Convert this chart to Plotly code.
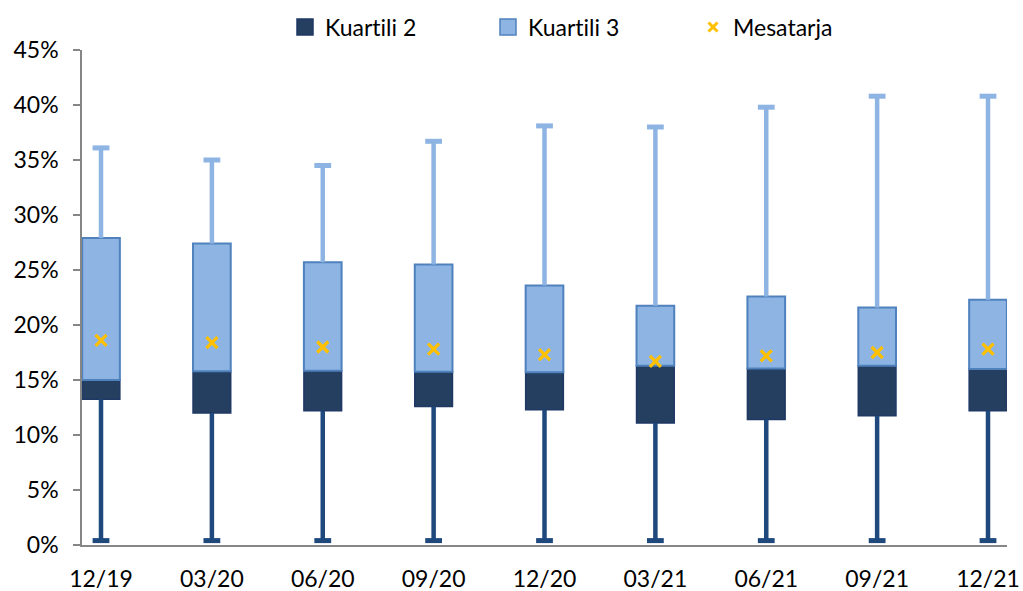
import plotly.graph_objects as go

categories = ["12/19", "03/20", "06/20", "09/20", "12/20", "03/21", "06/21", "09/21", "12/21"]
q_min = [0.4, 0.4, 0.4, 0.4, 0.4, 0.4, 0.4, 0.4, 0.4]
q1 = [13.25, 12.0, 12.2, 12.6, 12.3, 11.1, 11.4, 11.75, 12.2]
median = [15.0, 15.8, 15.85, 15.75, 15.7, 16.3, 16.05, 16.3, 16.0]
q3 = [27.9, 27.4, 25.7, 25.5, 23.6, 21.75, 22.6, 21.6, 22.3]
q_max = [36.1, 35.0, 34.5, 36.7, 38.1, 38.0, 39.8, 40.8, 40.8]
mean = [18.6, 18.4, 18.0, 17.8, 17.3, 16.7, 17.2, 17.5, 17.8]
y_ticks = [0, 5, 10, 15, 20, 25, 30, 35, 40, 45]

DARK = "#243F60"
DARK_EDGE = "#1F3864"
LOW_WHISK = "#1F497D"
LIGHT = "#8EB4E3"
LIGHT_EDGE = "#4F81BD"
MEAN_C = "#FFC000"
AXIS_C = "#868686"
FONT = "Lato"

xs = list(range(len(categories)))

fig = go.Figure()

fig.add_trace(go.Bar(
    x=xs, y=[m - a for m, a in zip(median, q1)], base=q1, width=0.34,
    marker=dict(color=DARK, line=dict(color=DARK_EDGE, width=1.5)),
    showlegend=False, hoverinfo="skip"))
fig.add_trace(go.Bar(
    x=xs, y=[b - m for b, m in zip(q3, median)], base=median, width=0.34,
    marker=dict(color=LIGHT, line=dict(color=LIGHT_EDGE, width=2)),
    showlegend=False, hoverinfo="skip"))

# whisker segments
lx, ly, ux, uy = [], [], [], []
for i in xs:
    lx += [i, i, None]
    ly += [q_min[i], q1[i], None]
    ux += [i, i, None]
    uy += [q3[i], q_max[i], None]

fig.add_trace(go.Scatter(x=lx, y=ly, mode="lines", line=dict(color=LOW_WHISK, width=4.5),
                         showlegend=False, hoverinfo="skip"))
fig.add_trace(go.Scatter(x=ux, y=uy, mode="lines", line=dict(color=LIGHT, width=4.5),
                         showlegend=False, hoverinfo="skip"))
fig.add_trace(go.Scatter(x=xs, y=q_min, mode="markers",
                         marker=dict(symbol="line-ew", size=12, line=dict(color=LOW_WHISK, width=5)),
                         showlegend=False, hoverinfo="skip"))
fig.add_trace(go.Scatter(x=xs, y=q_max, mode="markers",
                         marker=dict(symbol="line-ew", size=12, line=dict(color=LIGHT, width=5)),
                         showlegend=False, hoverinfo="skip"))
fig.add_trace(go.Scatter(x=xs, y=mean, mode="markers",
                         marker=dict(symbol="x-thin", size=11, line=dict(color=MEAN_C, width=3.2)),
                         showlegend=False, hoverinfo="skip"))

# legend entries
fig.add_trace(go.Scatter(x=[None], y=[None], mode="markers", name="Kuartili 2",
                         marker=dict(symbol="square", size=16, color=DARK, line=dict(color=DARK_EDGE, width=1.5)),
                         legend="legend"))
fig.add_trace(go.Scatter(x=[None], y=[None], mode="markers", name="Kuartili 3",
                         marker=dict(symbol="square", size=16, color=LIGHT, line=dict(color=LIGHT_EDGE, width=1.5)),
                         legend="legend2"))
fig.add_trace(go.Scatter(x=[None], y=[None], mode="markers", name="Mesatarja",
                         marker=dict(symbol="x-thin", size=9, line=dict(color=MEAN_C, width=3)),
                         legend="legend3"))

leg_common = dict(orientation="h", yanchor="middle", y=1 - 27 / 591, xanchor="left",
                  xref="container", yref="container",
                  font=dict(family=FONT, size=23, color="black"), bgcolor="rgba(0,0,0,0)",
                  itemsizing="trace")

fig.update_layout(
    width=1023, height=591,
    margin=dict(l=82, r=16, t=50, b=46, autoexpand=False),
    paper_bgcolor="white", plot_bgcolor="white",
    barmode="overlay",
    font=dict(family=FONT, size=23, color="black"),
    legend=dict(leg_common, x=285 / 1023),
    legend2=dict(leg_common, x=488 / 1023),
    legend3=dict(leg_common, x=693 / 1023),
    xaxis=dict(range=[-0.1714, 8.1713], tickmode="array", tickvals=xs, ticktext=categories,
               showline=True, linecolor=AXIS_C, linewidth=1.5, ticks="", showgrid=False,
               zeroline=False, ticklabelstandoff=13, automargin=False,
               tickfont=dict(family=FONT, size=23)),
    yaxis=dict(range=[0, 45], tickmode="array", tickvals=y_ticks,
               ticktext=[f"{v}%" for v in y_ticks],
               showline=True, linecolor=AXIS_C, linewidth=1.5, ticks="outside", ticklen=7,
               tickcolor=AXIS_C, tickwidth=1.5, showgrid=False, zeroline=False,
               ticklabelstandoff=10, automargin=False, tickfont=dict(family=FONT, size=23)),
)

post = (
    "document.body.style.margin='0';document.body.style.overflow='hidden';"
    "var s=document.createElement('style');"
    "s.textContent='text{font-variant-ligatures:none !important;font-feature-settings:\"liga\" 0,\"dlig\" 0 !important;}';"
    "document.head.appendChild(s);"
)

fig.write_html("out.html", config={"displayModeBar": False}, post_script=post)
